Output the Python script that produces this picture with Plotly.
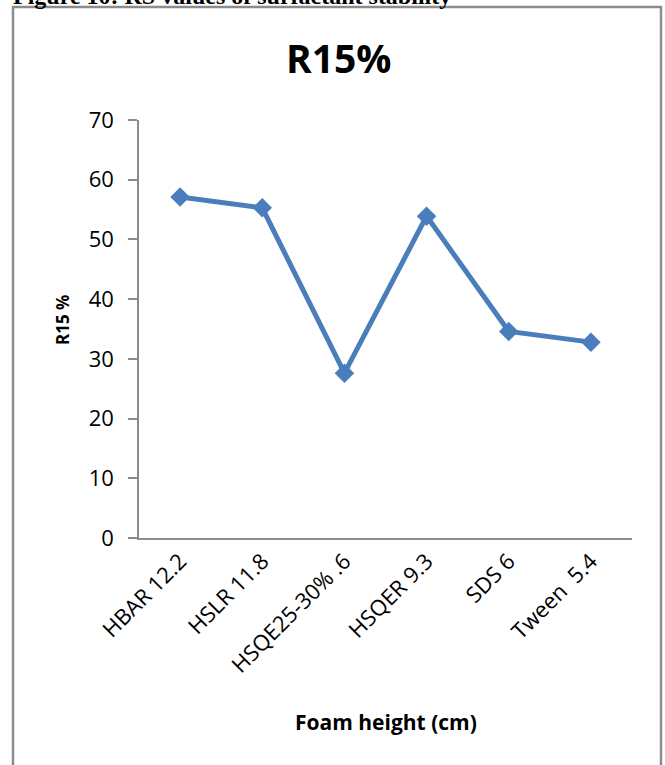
import plotly.graph_objects as go

W, H = 665, 765

categories = ["HBAR 12.2", "HSLR 11.8", "HSQE25-30% .6", "HSQER 9.3", "SDS 6", "Tween  5.4"]
r15_values = [57.1, 55.3, 27.6, 53.9, 34.6, 32.8]
y_ticks = [0, 10, 20, 30, 40, 50, 60, 70]

LINE = "#4a7ebb"
AXIS = "#8c8c8c"
FONT = "Open Sans, Noto Sans, sans-serif"


def px_x(x):
    return x / W


def px_y(y):
    return 1 - y / H


fig = go.Figure()
fig.add_trace(go.Scatter(
    x=categories, y=r15_values, mode="lines+markers",
    line=dict(color=LINE, width=5),
    marker=dict(symbol="diamond", size=15, color=LINE),
    cliponaxis=False, showlegend=False,
))

fig.update_layout(
    template="none",
    width=W, height=H,
    margin=dict(l=0, r=0, t=0, b=0, autoexpand=False),
    paper_bgcolor="white", plot_bgcolor="white",
    font=dict(family=FONT, color="black"),
    xaxis=dict(
        domain=[px_x(139), px_x(632)],
        type="category", automargin=False,
        range=[-0.5, len(categories) - 0.5],
        showline=True, linecolor=AXIS, linewidth=1.5,
        showgrid=False, zeroline=False,
        ticks="", tickangle=-45,
        tickfont=dict(size=22, family=FONT),
    ),
    yaxis=dict(
        domain=[px_y(538), px_y(120)],
        range=[0, 70], automargin=False,
        tickvals=y_ticks,
        showline=True, linecolor=AXIS, linewidth=1.5,
        showgrid=False, zeroline=False,
        ticks="outside", ticklen=9, tickcolor=AXIS, tickwidth=1.5,
        ticklabelstandoff=10,
        tickfont=dict(size=22, family=FONT),
    ),
)

# Outer chart frame
fig.add_shape(type="rect", xref="paper", yref="paper",
              x0=px_x(13), x1=px_x(661), y0=px_y(800), y1=px_y(7),
              line=dict(color=AXIS, width=2.5), fillcolor="rgba(0,0,0,0)")

# Baseline extends left of the y axis
fig.add_shape(type="line", xref="paper", yref="paper",
              x0=px_x(130), x1=px_x(139), y0=px_y(538), y1=px_y(538),
              line=dict(color=AXIS, width=1.5))

annotations = [
    dict(text="<b>Figure 10: RS values of surfactant stability</b>",
         x=px_x(11), y=px_y(-4), xanchor="left", yanchor="middle",
         font=dict(family="Liberation Serif, Times New Roman, serif", size=24)),
    dict(text="<b>R15%</b>", x=px_x(338), y=px_y(58),
         xanchor="center", yanchor="middle", font=dict(size=39, family=FONT)),
    dict(text="<b>R15 %</b>", x=px_x(62), y=px_y(320), textangle=-90,
         xanchor="center", yanchor="middle", font=dict(size=17, family=FONT)),
    dict(text="<b>Foam height (cm)</b>", x=px_x(386), y=px_y(722),
         xanchor="center", yanchor="middle", font=dict(size=21, family=FONT)),
]
for a in annotations:
    fig.add_annotation(xref="paper", yref="paper", showarrow=False, **a)

fig.write_html("out.html")
